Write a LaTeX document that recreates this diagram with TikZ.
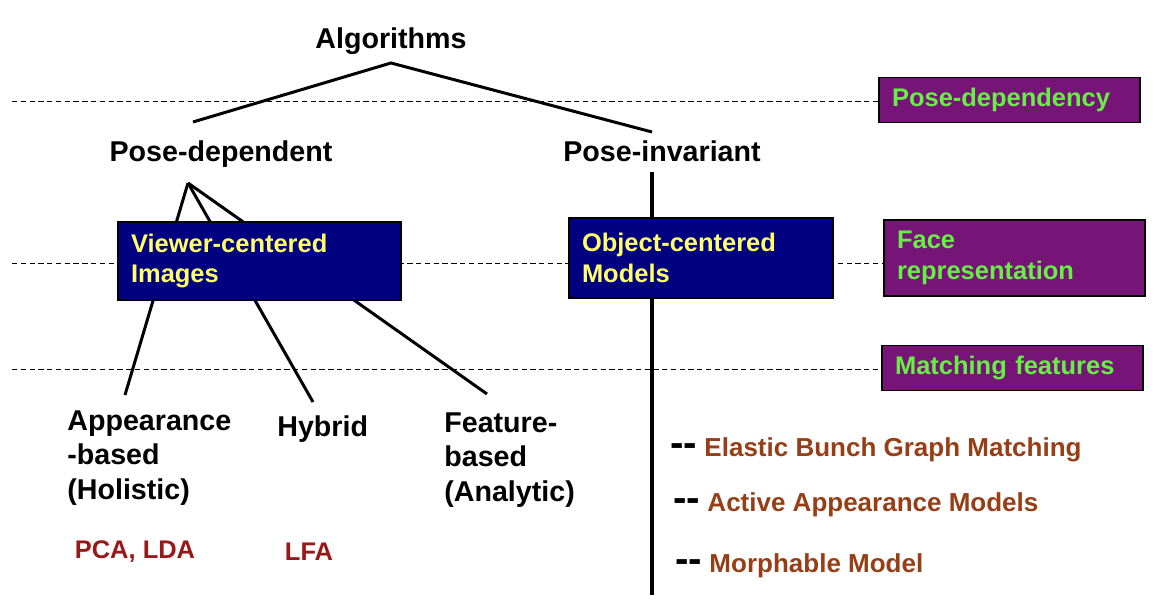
\documentclass[tikz,border=0pt]{standalone}
\usepackage{fontspec}
\setmainfont{Liberation Sans}
\usepackage{xcolor}
\definecolor{boxnavy}{RGB}{0,0,128}
\definecolor{boxyellow}{RGB}{255,255,102}
\definecolor{tagpurple}{RGB}{119,20,119}
\definecolor{taggreen}{RGB}{102,240,68}
\definecolor{methodbrown}{RGB}{150,62,22}
\definecolor{algred}{RGB}{150,24,24}

\begin{document}
\begin{tikzpicture}[x=0.02cm, y=-0.02cm,
  every node/.style={inner sep=0pt, font=\bfseries},
  label/.style={font=\bfseries\fontsize{16.3}{19.8}\selectfont, align=left},
  navybox/.style={draw=black, line width=1.6pt, fill=boxnavy, text=boxyellow,
    font=\bfseries\fontsize{14.5}{17.6}\selectfont, align=left, inner xsep=0.26cm},
  tagbox/.style={draw=black, line width=0.8pt, fill=tagpurple, text=taggreen,
    font=\bfseries\fontsize{14.5}{17.6}\selectfont, align=left, inner xsep=0.26cm,
    minimum width=5.22cm},
  method/.style={text=methodbrown, font=\bfseries\fontsize{14.8}{17.6}\selectfont, anchor=west},
  algo/.style={text=algred, font=\bfseries\fontsize{14.5}{17.6}\selectfont},
  branch/.style={line width=1.7pt},
  levelline/.style={line width=0.5pt, dash pattern=on 3pt off 2pt}
]
\useasboundingbox (0,0) rectangle (1171,614);

% category tags on the right
\node[tagbox, minimum height=0.9cm, text width=4.7cm] (posedep) at (1009.5,100) {Pose-dependency};
\node[tagbox, minimum height=1.52cm, text width=4.7cm] (facerep) at (1014.5,258) {Face\\representation};
\node[tagbox, minimum height=0.9cm, text width=4.7cm] (matchfeat) at (1012.5,368) {Matching features};

% level lines
\coordinate (lvl1) at (12,101);
\coordinate (lvl2) at (12,263);
\coordinate (lvl3) at (12,369);
\draw[levelline] (lvl1) -- (lvl1 -| posedep.west);
\draw[levelline] (lvl2) -- (lvl2 -| facerep.west);
\draw[levelline] (lvl3) -- (lvl3 -| matchfeat.west);

% tree
\node[label] (algs) at (391,41) {Algorithms};
\node[label] (posedept) at (221,154) {Pose-dependent};
\node[label] (poseinv) at (662,151) {Pose-invariant};
\coordinate (top) at (391,63);
\coordinate (leftend) at (193,122);
\coordinate (rightend) at (652,132);
\draw[branch] (leftend) -- (top) -- (rightend);

\coordinate (fork) at (188,183);
\coordinate (append) at (125,395);
\coordinate (hybend) at (313,402);
\coordinate (featend) at (487,394);
\draw[branch] (fork) -- (append);
\draw[branch] (fork) -- (hybend);
\draw[branch] (fork) -- (featend);

\coordinate (invtop) at (652,172);
\coordinate (invbot) at (652,595);
\draw[line width=2.6pt] (invtop) -- (invbot);

% representation boxes
\node[navybox, minimum width=5.66cm, minimum height=1.56cm, text width=5.14cm] (viewer) at (259.5,261) {Viewer-centered\\Images};
\node[navybox, minimum width=5.28cm, minimum height=1.6cm, text width=4.76cm] (object) at (701,258) {Object-centered\\Models};

% leaves
\node[label, anchor=west] (appear) at (67,458) {Appearance\\-based\\(Holistic)};
\node[label, anchor=west] (hybrid) at (277,429) {Hybrid};
\node[label, anchor=west] (feature) at (444,460) {Feature-\\based\\(Analytic)};
\node[algo] (pcalda) at (135,552) {PCA, LDA};
\node[algo] (lfa) at (309,552) {LFA};

% model based methods
\node[method] (ebgm) at (670,450) {{\color{black}\fontsize{23}{20}\selectfont -{}-} Elastic Bunch Graph Matching};
\node[method] (aam) at (673,505) {{\color{black}\fontsize{23}{20}\selectfont -{}-} Active Appearance Models};
\node[method] (morph) at (675,566) {{\color{black}\fontsize{23}{20}\selectfont -{}-} Morphable Model};
\end{tikzpicture}
\end{document}
